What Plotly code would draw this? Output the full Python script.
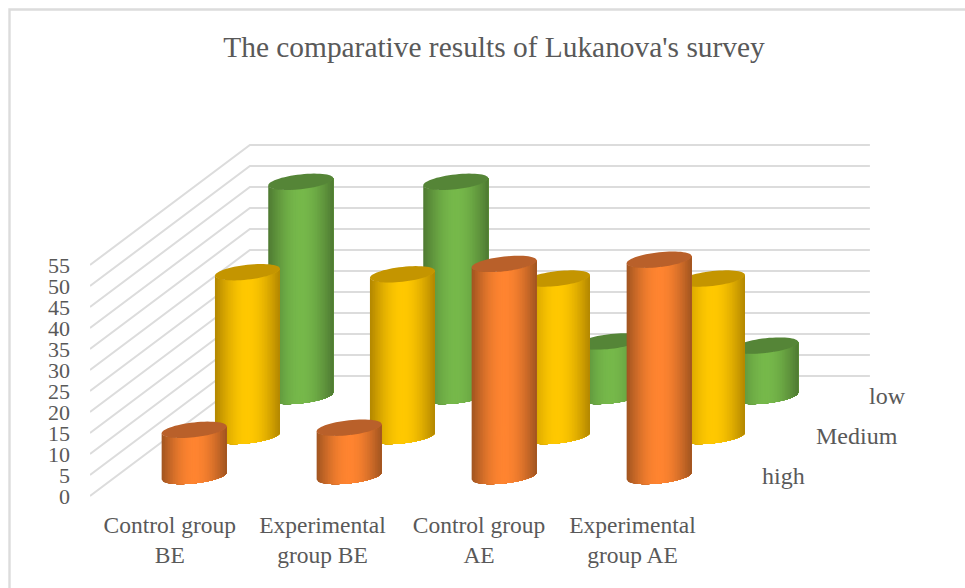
import math
import plotly.graph_objects as go

# Survey results per group, one list per response level
categories = ["Control group<br>BE", "Experimental<br>group BE", "Control group<br>AE", "Experimental<br>group AE"]
label_positions = [0.515, 1.5, 2.51, 3.5]
high = [11, 11.5, 50.5, 51.5]
medium = [39, 38.5, 37.5, 37.5]
low = [51, 51, 13, 12]
value_ticks = [0, 5, 10, 15, 20, 25, 30, 35, 40, 45, 50, 55]
series_names = ["high", "Medium", "low"]

# Oblique projection: one depth row moves a point right and up on the 2D axes
PX_PER_CAT = 155.0
PX_PER_VALUE = 4.2
DEPTH_X = 53.3 / PX_PER_CAT
DEPTH_Y = 40.0 / PX_PER_VALUE
ROWS = 3

# Cylinder cross-section on the axes
RADIUS = 32.5 / PX_PER_CAT
CAP_HALF = 7.4 / PX_PER_VALUE
CAP_TILT = 3.5 / PX_PER_VALUE
STRIPS = 40
ARC_STEPS = 40

TEXT = "#595959"
GRID = "#dcdcdc"
FONT = "Liberation Serif"

# (series values, depth row, dark edge, bright centre, cap colour)
series = [
    (low, 2.5, (78, 122, 50), (118, 184, 74), "#558537"),
    (medium, 1.5, (178, 134, 0), (255, 200, 0), "#c49500"),
    (high, 0.5, (160, 84, 32), (255, 132, 48), "#b9602a"),
]


def cap_point(cx, cy, t):
    return cx + RADIUS * math.cos(t), cy + CAP_TILT * math.cos(t) + CAP_HALF * math.sin(t)


def front_angle(u):
    # Angle on the front half of the ellipse for a position u across the width
    return math.pi + math.acos(1 - 2 * u)


def shade(dark, bright, f):
    return "rgb(%d,%d,%d)" % tuple(round(d + (b - d) * f) for d, b in zip(dark, bright))


fig = go.Figure()

# Side wall and back wall gridlines
gx, gy = [], []
for v in value_ticks:
    gx += [0, ROWS * DEPTH_X, ROWS * DEPTH_X + 4.0, None]
    gy += [v, v + ROWS * DEPTH_Y, v + ROWS * DEPTH_Y, None]
fig.add_trace(go.Scatter(x=gx, y=gy, mode="lines", line=dict(color=GRID, width=2), hoverinfo="skip"))

# Back rows first so the nearer cylinders overlap them
for values, depth, dark, bright, cap in series:
    for s in range(STRIPS):
        u0 = s / STRIPS
        f = math.sin(math.pi * (s + 0.5) / STRIPS)
        color = shade(dark, bright, f)
        # Each shade fills from its own left edge to the right side of the
        # cylinder, and the next shade paints over it, which leaves no seams
        arc = [front_angle(u0 + (1 - u0) * k / ARC_STEPS) for k in range(ARC_STEPS + 1)]
        xs, ys = [], []
        for i, v in enumerate(values):
            cx = i + 0.5 + depth * DEPTH_X
            base = depth * DEPTH_Y
            lower = [cap_point(cx, base, t) for t in arc]
            xs += [p[0] for p in lower] + [p[0] for p in reversed(lower)] + [None]
            ys += [p[1] for p in lower] + [p[1] + v for p in reversed(lower)] + [None]
        fig.add_trace(go.Scatter(x=xs, y=ys, mode="none", fill="toself", fillcolor=color, hoverinfo="skip"))
    # Top caps
    xs, ys = [], []
    for i, v in enumerate(values):
        cx = i + 0.5 + depth * DEPTH_X
        cy = v + depth * DEPTH_Y
        for k in range(61):
            px, py = cap_point(cx, cy, 2 * math.pi * k / 60)
            xs.append(px)
            ys.append(py)
        xs.append(None)
        ys.append(None)
    fig.add_trace(go.Scatter(x=xs, y=ys, mode="none", fill="toself", fillcolor=cap, hoverinfo="skip"))

# Depth-axis labels, left aligned at each row's floor position
annotations = [
    dict(x=4.152 + d * DEPTH_X, y=d * DEPTH_Y, text=name, xref="x", yref="y", xanchor="left", yanchor="middle",
         showarrow=False, font=dict(family=FONT, size=24, color=TEXT))
    for name, d in zip(series_names, [0.5, 1.5, 2.5])
]

# Outer chart frame, open on the cropped right and bottom sides
PLOT_W = 785.0
PLOT_H = 360.0
fx = (9.5 - 90) / PLOT_W
fy = (500 - 9.5) / PLOT_H
frame = dict(type="path", xref="paper", yref="paper",
             path=f"M {fx} {(500 - 588) / PLOT_H} L {fx} {fy} L {(965 - 90) / PLOT_W} {fy}",
             line=dict(color=GRID, width=2.4))

fig.update_layout(
    width=965, height=588,
    margin=dict(l=90, r=90, t=140, b=88),
    paper_bgcolor="white", plot_bgcolor="white",
    showlegend=False,
    title=dict(text="The comparative results of Lukanova's survey", x=494 / 965, xanchor="center",
               y=1 - 46.5 / 588, yanchor="middle", font=dict(family=FONT, size=29.4, color=TEXT)),
    xaxis=dict(range=[0, PLOT_W / PX_PER_CAT], tickvals=label_positions, ticktext=categories,
               showgrid=False, zeroline=False, showline=False, ticks="", ticklabelstandoff=8,
               tickfont=dict(family=FONT, size=23.5, color=TEXT)),
    yaxis=dict(range=[-4 / PX_PER_VALUE, 356 / PX_PER_VALUE], tickvals=value_ticks,
               showgrid=False, zeroline=False, showline=False, ticks="", ticklabelstandoff=19,
               tickfont=dict(family=FONT, size=22, color=TEXT)),
    annotations=annotations,
    shapes=[frame],
)

fig.write_html("out.html", config=dict(displayModeBar=False))
